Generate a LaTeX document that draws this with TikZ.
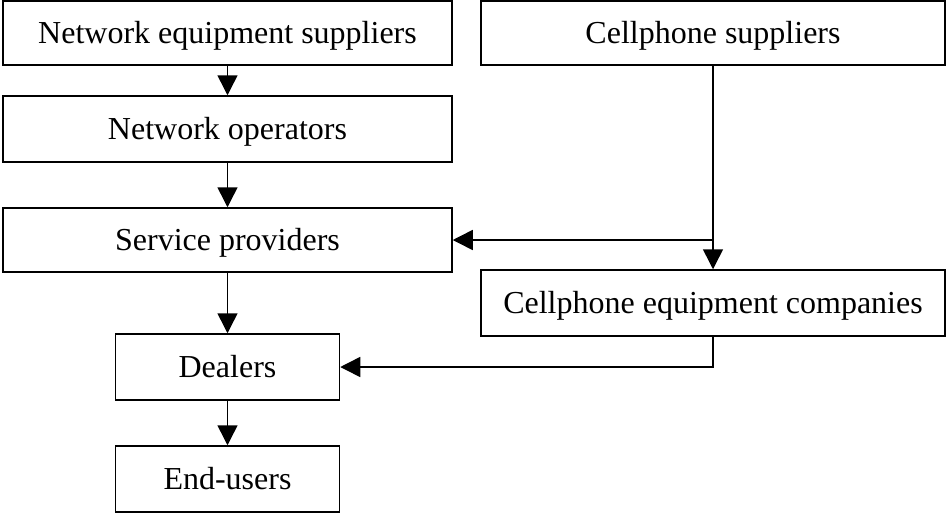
\documentclass[tikz,border=0pt]{standalone}
\usepackage{fontspec}
\setmainfont{Liberation Serif}
\usetikzlibrary{arrows.meta}

\tikzset{box/.style={rectangle, draw, line width=1.5pt, inner sep=0pt, text height=21pt, text depth=0pt, font=\fontsize{32}{36}\selectfont}}
\tikzset{arr/.style={line width=1.5pt, -{Triangle[length=20pt,width=20pt]}}}

\begin{document}
\begin{tikzpicture}[x=1pt,y=-1pt]
			\useasboundingbox (0,0) rectangle (946,515);
			% Left column
			\node[box, minimum width=449pt, minimum height=64pt] (NES) at (227.5,33) {Network equipment suppliers};
			\node[box, minimum width=449pt, minimum height=66pt] (NO) at (227.5,129) {Network operators};
			\node[box, minimum width=449pt, minimum height=64pt] (SP) at (227.5,240) {Service providers};
			\node[box, minimum width=224pt, minimum height=66pt] (D) at (227.5,367) {Dealers};
			\node[box, minimum width=224pt, minimum height=66pt] (EU) at (227.5,479) {End-users};
			
			% Right column
			\node[box, minimum width=464pt, minimum height=64pt] (CS) at (713,33) {Cellphone suppliers};
			\node[box, minimum width=464pt, minimum height=66pt] (CEC) at (713,303) {Cellphone equipment companies};
			
			% Arrows down the left column
			\draw[arr] (NES) -- (NO);
			\draw[arr] (NO) -- (SP);
			\draw[arr] (SP) -- (D);
			\draw[arr] (D) -- (EU);
			
			% Arrows from the right column
			\draw[arr] (CS.south) |- (SP.east);
			\draw[arr] (CS) -- (CEC);
			\draw[arr] (CEC.south) |- (D.east);
		\end{tikzpicture}
\end{document}
